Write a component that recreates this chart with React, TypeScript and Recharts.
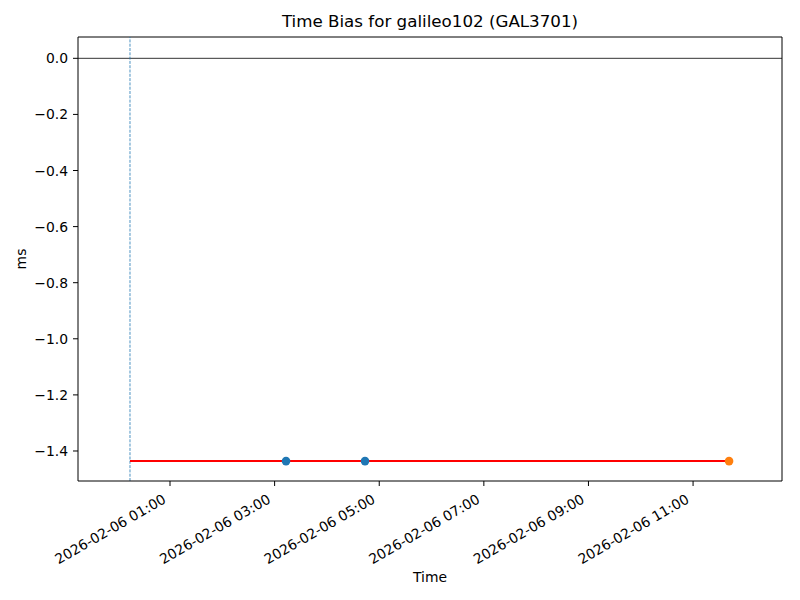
import React from "react";
import {
  ComposedChart,
  Line,
  Scatter,
  XAxis,
  YAxis,
  ReferenceLine,
} from "recharts";

// hours since 2026-02-06 00:00
const biasLineTimes = [0.235, 11.688];
const biasLineValues = [-1.436, -1.436];
const blueTimes = [3.218, 4.728];
const blueValues = [-1.436, -1.436];
const orangeTimes = [11.688];
const orangeValues = [-1.436];
const markerTime = 0.235;
const xTicks = [1, 3, 5, 7, 9, 11];
const yTicks = [0, -0.2, -0.4, -0.6, -0.8, -1.0, -1.2, -1.4];
const xDomain = [-0.759, 12.7];
const yDomain = [-1.507, 0.076];
const datePrefix = "2026-02-06";
const title = "Time Bias for galileo102 (GAL3701)";
const xLabel = "Time";
const yLabel = "ms";

const lineData = biasLineTimes.map((t, i) => ({ x: t, y: biasLineValues[i] }));
const blueData = blueTimes.map((t, i) => ({ x: t, y: blueValues[i] }));
const orangeData = orangeTimes.map((t, i) => ({ x: t, y: orangeValues[i] }));

const FONT = "DejaVu Sans";

const fmtHour = (h: number) => {
  const hh = Math.floor(h);
  const mm = Math.round((h - hh) * 60);
  return `${datePrefix} ${String(hh).padStart(2, "0")}:${String(mm).padStart(2, "0")}`;
};

const XTick = (props: any) => {
  const { x, payload } = props;
  const ax = x - 3;
  const ay = 502;
  return (
    <text
      x={ax}
      y={ay}
      textAnchor="end"
      fontFamily={FONT}
      fontSize={13.9}
      fill="#000"
      transform={`rotate(-30, ${ax}, ${ay})`}
    >
      {fmtHour(payload.value)}
    </text>
  );
};

const YTick = (props: any) => {
  const { y, payload } = props;
  const v = Number(payload.value);
  const s = (Math.abs(v) < 1e-9 ? 0 : v).toFixed(1).replace("-", "\u2212");
  return (
    <text
      x={68}
      y={y}
      dy={5}
      textAnchor="end"
      fontFamily={FONT}
      fontSize={13.9}
      fill="#000"
    >
      {s}
    </text>
  );
};

export default function App() {
  return (
    <div
      style={{
        position: "absolute",
        left: 0,
        top: 0,
        width: 800,
        height: 600,
        background: "#fff",
        fontFamily: FONT,
        color: "#000",
      }}
    >
      <div
        style={{
          position: "absolute",
          left: 78,
          width: 704,
          top: 11,
          textAlign: "center",
          fontSize: 16.7,
          lineHeight: "20px",
        }}
      >
        {title}
      </div>
      <div
        style={{
          position: "absolute",
          left: 330,
          width: 200,
          top: 567,
          textAlign: "center",
          fontSize: 13.9,
          lineHeight: "20px",
        }}
      >
        {xLabel}
      </div>
      <div
        style={{
          position: "absolute",
          left: -29,
          width: 100,
          top: 249,
          textAlign: "center",
          fontSize: 13.9,
          lineHeight: "20px",
          transform: "rotate(-90deg)",
        }}
      >
        {yLabel}
      </div>
      <ComposedChart
        width={800}
        height={600}
        margin={{ top: 37, right: 18, bottom: 19, left: 18 }}
      >
        <XAxis
          type="number"
          dataKey="x"
          domain={xDomain}
          ticks={xTicks}
          allowDataOverflow
          height={100}
          stroke="#000"
          tickSize={5}
          tick={<XTick />}
          interval={0}
        />
        <YAxis
          type="number"
          dataKey="y"
          domain={yDomain}
          ticks={yTicks}
          allowDataOverflow
          width={60}
          stroke="#000"
          tickSize={5}
          tick={<YTick />}
          interval={0}
        />
        <ReferenceLine y={yDomain[1]} stroke="#000" strokeWidth={1} />
        <ReferenceLine x={xDomain[1]} stroke="#000" strokeWidth={1} />
        <ReferenceLine y={0} stroke="#000" strokeWidth={0.8} />
        <ReferenceLine
          x={markerTime}
          stroke="#1f77b4"
          strokeWidth={0.8}
          strokeDasharray="3 1.3"
        />
        <Line
          data={lineData}
          dataKey="y"
          stroke="#ff0000"
          strokeWidth={2}
          dot={false}
          activeDot={false}
          isAnimationActive={false}
        />
        <Scatter
          data={blueData}
          dataKey="y"
          fill="#1f77b4"
          shape={(p: any) => <circle cx={p.cx} cy={p.cy} r={4.3} fill="#1f77b4" />}
          isAnimationActive={false}
        />
        <Scatter
          data={orangeData}
          dataKey="y"
          fill="#ff7f0e"
          shape={(p: any) => <circle cx={p.cx} cy={p.cy} r={4.3} fill="#ff7f0e" />}
          isAnimationActive={false}
        />
      </ComposedChart>
    </div>
  );
}
